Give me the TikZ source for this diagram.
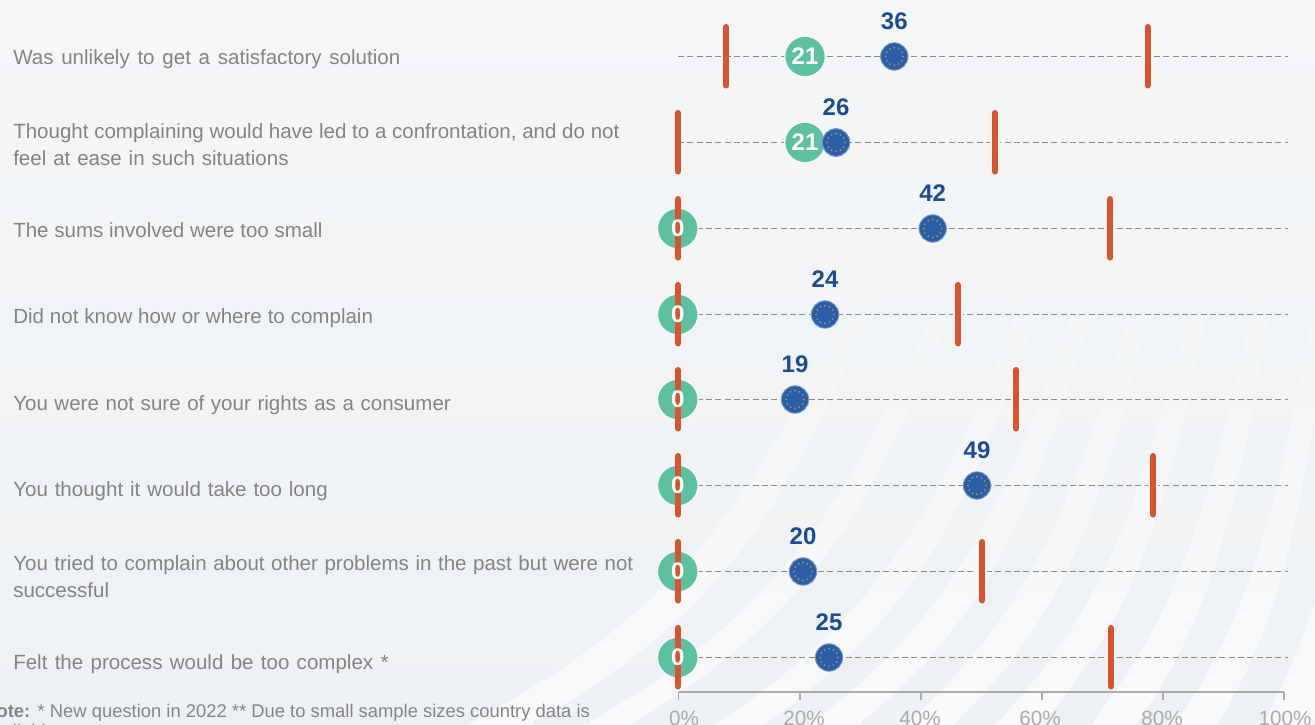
\documentclass[tikz,border=0pt]{standalone}
\usepackage{fontspec}
\setmainfont{Liberation Sans}
\usetikzlibrary{fadings}
\definecolor{bgtop}{HTML}{F4F6F8}
\definecolor{bgbot}{HTML}{EEF1F3}
\definecolor{labelgrey}{HTML}{848484}
\definecolor{axisgrey}{HTML}{ABABAB}
\definecolor{dashgrey}{HTML}{8C8C8C}
\definecolor{greenpt}{HTML}{5DC0A0}
\definecolor{barred}{HTML}{D9532C}
\definecolor{eublue}{HTML}{2B5EA7}
\definecolor{euedge}{HTML}{7396C8}
\definecolor{eustar}{HTML}{9A9B62}
\definecolor{eutext}{HTML}{1C4A94}
\tikzset{
  rowlabel/.style={anchor=base west,inner sep=0pt,text=labelgrey,align=left,font=\fontsize{15.4}{20.25}\selectfont},
  rowlabeltwo/.style={rowlabel,anchor=west},
  gridline/.style={draw=dashgrey,line width=1.1pt,dash pattern=on 4.5pt off 2.5pt},
  redbar/.style={draw=barred,line width=4.5pt,line cap=round},
  barhalo/.style={draw=bgtop,line width=7.5pt},
  greendot/.style={circle,fill=greenpt,draw=bgtop,line width=1pt,minimum size=30.5pt,inner sep=0pt},
  greenval/.style={inner sep=0pt,text=white,font=\fontsize{18}{18}\selectfont\bfseries},
  eudot/.style={circle,fill=eublue,draw=euedge,line width=.7pt,minimum size=20.5pt,inner sep=0pt,outer sep=1.2pt},
  euval/.style={inner sep=0pt,text=eutext,font=\fontsize{18}{18}\selectfont\bfseries},
  axisline/.style={draw=axisgrey,line width=1.1pt},
  axisval/.style={anchor=base,inner sep=0pt,text=axisgrey,font=\fontsize{15.5}{15.5}\selectfont},
  notetext/.style={anchor=base west,inner sep=0pt,text=labelgrey,font=\fontsize{13.8}{13.8}\selectfont},
  band/.style={fill=white,fill opacity=.62,path fading=north}
}
\newcommand{\wsp}[1]{\spaceskip=\dimexpr\fontdimen2\font+#1\relax}
% #1 row id, #2 y, #3 line start x, #4 left bar x, #5 right bar x, #6 eu x, #7 eu value
\newcommand{\chartrow}[7]{%
  \coordinate (s#1) at (#3,#2);
  \coordinate (e#1) at (1288,#2);
  \draw[gridline] (s#1) -- (e#1);
  \node[eudot] (eu#1) at (#6,#2) {};
  \foreach \a in {0,30,...,330}
    \fill[eustar] ({#6+8.8*cos(\a)},{#2+8.8*sin(\a)}) circle (1.0);
  \node[euval] (euv#1) at (#6,#2-35.5) {#7};
  \coordinate (lt#1) at (#4,#2-29.5);
  \coordinate (lb#1) at (#4,#2+29);
  \coordinate (rt#1) at (#5,#2-29.5);
  \coordinate (rb#1) at (#5,#2+29);
  \coordinate (rha#1) at (#5,#2-2);
  \coordinate (rhb#1) at (#5,#2+2);
  \draw[barhalo] (rha#1) -- (rhb#1);
  \draw[redbar] (rt#1) -- (rb#1);
}
\begin{document}
\begin{tikzpicture}[x=.75pt,y=-.75pt]
\clip (0,0) rectangle (1315,725);
\useasboundingbox (0,0) rectangle (1315,725);
\path[top color=bgtop,bottom color=bgbot] (0,0) rectangle (1315,725);
% curved light bands of the backdrop: bottom x / spread / bottom width
\foreach \xb/\s/\w in {467/1.95/62,585/1.8/45,715/1.56/48,810/1.35/48,905/1.16/48,995/1/45,1090/.83/45,1175/.71/42,1262/.57/50,1360/.4/50}{
  \fill[band] (\xb,725) .. controls (\xb+120*\s,600) and (\xb+155*\s,480) .. (\xb+220*\s,200)
     -- (\xb+220*\s+.35*\w,200) .. controls (\xb+155*\s+.5*\w,480) and (\xb+120*\s+.8*\w,600) .. (\xb+\w,725) -- cycle;
}
% row labels
\node[rowlabel] (t1) at (13,64) {\wsp{1.54pt}Was unlikely to get a satisfactory solution};
\node[rowlabeltwo] (t2) at (13,144.5) {Thought complaining would have led to a confrontation, and do not\\{\wsp{.9pt}feel at ease in such situations}};
\node[rowlabel] (t3) at (13,237) {The sums involved were too small};
\node[rowlabel] (t4) at (13,323) {\wsp{.15pt}Did not know how or where to complain};
\node[rowlabel] (t5) at (13,410) {\wsp{.67pt}You were not sure of your rights as a consumer};
\node[rowlabel] (t6) at (13,496) {\wsp{.88pt}You thought it would take too long};
\node[rowlabeltwo] (t7) at (13,576.5) {{\wsp{.63pt}You tried to complain about other problems in the past but were not}\\successful};
\node[rowlabel] (t8) at (13,669) {\wsp{1.2pt}Felt the process would be too complex *};
% footnote, cut by the picture edge
\node[notetext] (n1) at (-17,717) {\textbf{Note:}\hspace{.4em}* New question in 2022 ** Due to small sample sizes country data is};
\node[notetext] (n2) at (-17,737) {available};
% rows
\chartrow{1}{56.5}{678}{726}{1147.5}{894.3}{36}
\chartrow{2}{142.5}{678}{678}{995}{836}{26}
\chartrow{3}{228.5}{678}{678}{1110}{932.7}{42}
\chartrow{4}{314.5}{678}{678}{958}{825}{24}
\chartrow{5}{399.5}{678}{678}{1016}{795}{19}
\chartrow{6}{485.5}{678}{678}{1153}{977}{49}
\chartrow{7}{571.5}{678}{678}{982}{803}{20}
\chartrow{8}{657.5}{678}{678}{1111}{829}{25}
% left bars and green dots
\node[greendot] (g1) at (805,56.5) {};
\draw[redbar] (lt1) -- (lb1);
\node[greenval] at (g1) {21};
\node[greendot] (g2) at (805,142.5) {};
\draw[redbar] (lt2) -- (lb2);
\node[greenval] at (g2) {21};
\foreach \r/\y in {3/228.5,4/314.5,5/399.5,6/485.5,7/571.5,8/657.5}{
  \node[greendot] (g\r) at (677.8,\y) {};
  \draw[redbar] (lt\r) -- (lb\r);
  \node[greenval] at (g\r) {0};
}
% the row 2 EU dot sits over the green one
\node[eudot] (eub) at (836,142.5) {};
\foreach \a in {0,30,...,330}
  \fill[eustar] ({836+8.8*cos(\a)},{142.5+8.8*sin(\a)}) circle (1.0);
% axis
\coordinate (ax0) at (678.7,692);
\coordinate (ax100) at (1284,692);
\draw[axisline] (ax0) -- (ax100);
\foreach \i/\x/\lx/\t in {0/678.7/684/0\%,1/799.8/804/20\%,2/920.8/920/40\%,3/1041.9/1040/60\%,4/1162.9/1162/80\%,5/1284/1285/100\%}{
  \coordinate (tk\i) at (\x,692);
  \coordinate (tb\i) at (\x,700);
  \draw[axisline] (tk\i) -- (tb\i);
  \node[axisval] (al\i) at (\lx,725) {\t};
}
\end{tikzpicture}
\end{document}
